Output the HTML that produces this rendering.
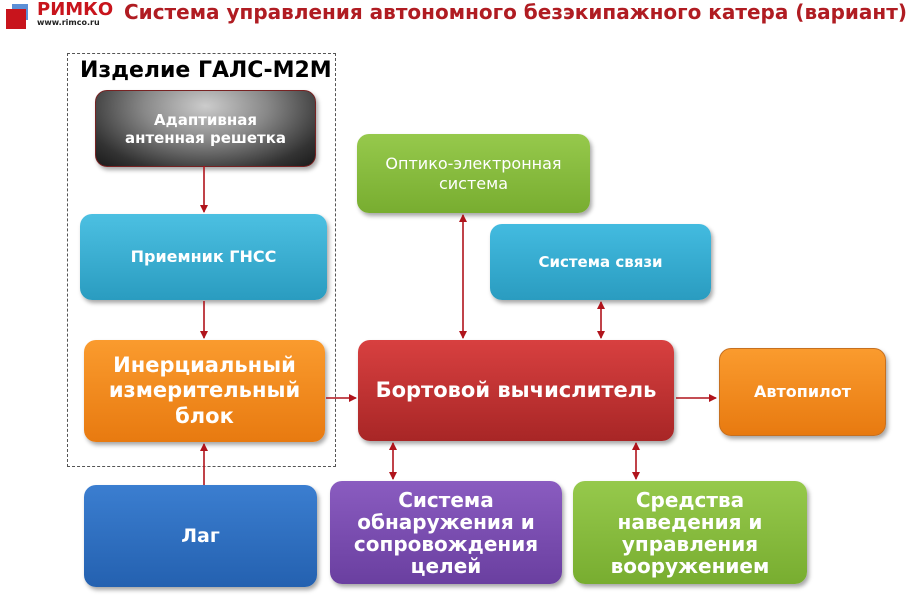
<!DOCTYPE html>
<html><head><meta charset="utf-8"><style>
body{margin:0;width:919px;height:610px;background:#fff;position:relative;overflow:hidden;font-family:"DejaVu Sans","Liberation Sans",sans-serif}
.b{position:absolute;border-radius:12px;display:flex;align-items:center;justify-content:center;text-align:center;color:#fff;font-weight:bold;box-shadow:2px 3px 4px rgba(0,0,0,.35);line-height:1.2}
.t{position:absolute;white-space:nowrap}
</style></head><body>
<div style="position:absolute;left:12px;top:4px;width:16px;height:16px;background:#5b8fd6"></div>
<div style="position:absolute;left:6px;top:9px;width:20px;height:20px;background:#c8141c"></div>
<div class="t" style="left:37px;top:-1px;font-size:18px;font-weight:bold;color:#c8141c">РИМКО</div>
<div class="t" style="left:37px;top:18px;font-size:8px;font-weight:bold;color:#222">www.rimco.ru</div>
<div class="t" style="left:124px;top:0px;font-size:20px;font-weight:bold;color:#b01c22">Система управления автономного безэкипажного катера (вариант)</div>
<div style="position:absolute;left:67px;top:53px;width:267px;height:412px;border:1px dashed #555"></div>
<div class="t" style="left:80px;top:58px;font-size:22px;font-weight:bold;color:#000">Изделие ГАЛС-М2М</div>
<div class="b" style="left:95px;top:90px;width:219px;height:75px;background:radial-gradient(ellipse at 50% 20%,#ccc 0%,#888 40%,#333 80%,#1a1a1a);font-size:15px;border:1px solid #722">Адаптивная<br>антенная решетка</div>
<div class="b" style="left:80px;top:214px;width:247px;height:86px;background:linear-gradient(#4cc0e2,#2a9cc0);font-size:16px">Приемник ГНСС</div>
<div class="b" style="left:84px;top:340px;width:241px;height:102px;background:linear-gradient(#fa9b2e,#e87a10);font-size:21px">Инерциальный<br>измерительный<br>блок</div>
<div class="b" style="left:84px;top:485px;width:233px;height:102px;background:linear-gradient(#3b7ed0,#2461b0);font-size:19px">Лаг</div>
<div class="b" style="left:357px;top:134px;width:233px;height:79px;background:linear-gradient(#96c94c,#78ad30);font-size:16px;font-weight:normal">Оптико-электронная<br>система</div>
<div class="b" style="left:490px;top:224px;width:221px;height:76px;background:linear-gradient(#43bbe0,#2a9cc0);font-size:15px">Система связи</div>
<div class="b" style="left:358px;top:340px;width:316px;height:101px;background:linear-gradient(#d84040,#a82626);font-size:21px">Бортовой вычислитель</div>
<div class="b" style="left:719px;top:348px;width:165px;height:86px;background:linear-gradient(#fa9b2e,#e87a10);font-size:16px;border:1px solid #c67020">Автопилот</div>
<div class="b" style="left:330px;top:481px;width:232px;height:103px;background:linear-gradient(#8a5cc0,#6a3fa0);font-size:20px;line-height:1.1">Система<br>обнаружения и<br>сопровождения<br>целей</div>
<div class="b" style="left:573px;top:481px;width:234px;height:103px;background:linear-gradient(#96c94c,#78ad30);font-size:20px;line-height:1.1">Средства<br>наведения и<br>управления<br>вооружением</div>
<svg width="919" height="610" style="position:absolute;left:0;top:0">
<defs><marker id="a" markerWidth="8" markerHeight="8" refX="7" refY="4" orient="auto-start-reverse" markerUnits="userSpaceOnUse"><path d="M0,0L8,4L0,8z" fill="#b0141c"/></marker></defs>
<g stroke="#b0141c" stroke-width="1.6" fill="none">
<line x1="204" y1="166" x2="204" y2="212" marker-end="url(#a)"/>
<line x1="204" y1="301" x2="204" y2="338" marker-end="url(#a)"/>
<line x1="204" y1="485" x2="204" y2="444" marker-end="url(#a)"/>
<line x1="326" y1="398" x2="356" y2="398" marker-end="url(#a)"/>
<line x1="676" y1="398" x2="716" y2="398" marker-end="url(#a)"/>
<line x1="463" y1="215" x2="463" y2="338" marker-start="url(#a)" marker-end="url(#a)"/>
<line x1="601" y1="302" x2="601" y2="338" marker-start="url(#a)" marker-end="url(#a)"/>
<line x1="393" y1="443" x2="393" y2="479" marker-start="url(#a)" marker-end="url(#a)"/>
<line x1="636" y1="443" x2="636" y2="479" marker-start="url(#a)" marker-end="url(#a)"/>
</g></svg>
</body></html>
